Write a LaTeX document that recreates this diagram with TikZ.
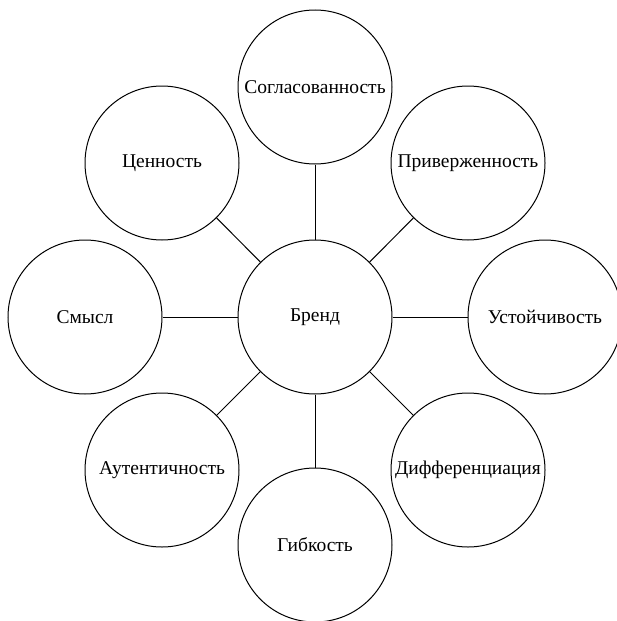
\documentclass[tikz,border=0pt]{standalone}
\usepackage{fontspec}
\setmainfont{Liberation Serif}
\begin{document}
\begin{tikzpicture}[x=1pt,y=-1pt,
  bubble/.style={circle,draw=black,line width=1pt,minimum size=154pt,inner sep=0pt,font=\fontsize{19.5}{23}\selectfont},
  link/.style={draw=black,line width=1pt}]
\useasboundingbox (0,0) rectangle (617,621);
\node[bubble] (c) at (315,317) {Бренд};
\node[bubble] (t) at (315,87) {Согласованность};
\node[bubble] (tr) at (468,163) {Приверженность};
\node[bubble] (r) at (545,317) {Устойчивость};
\node[bubble] (br) at (468,470) {Дифференциация};
\node[bubble] (b) at (315,545) {Гибкость};
\node[bubble] (bl) at (162,470) {Аутентичность};
\node[bubble] (l) at (85,317) {Смысл};
\node[bubble] (tl) at (162,163) {Ценность};
\foreach \n in {t,tr,r,br,b,bl,l,tl} \draw[link] (c) -- (\n);
\end{tikzpicture}
\end{document}
